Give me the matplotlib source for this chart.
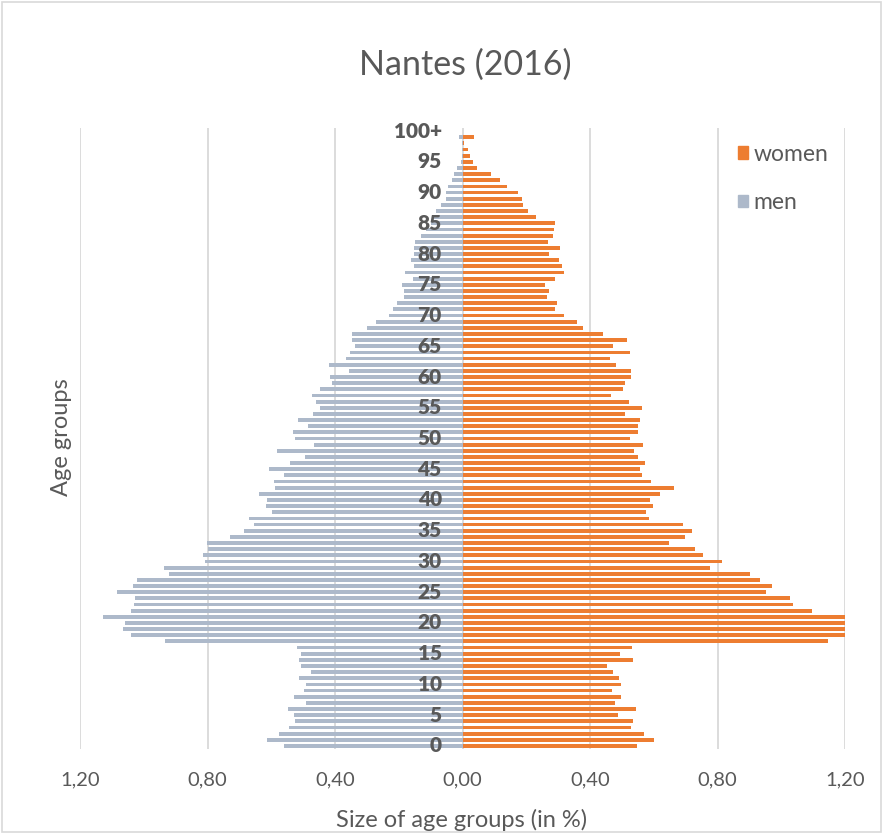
import matplotlib
matplotlib.use("Agg")
import matplotlib.pyplot as plt
from matplotlib.patches import Patch, Rectangle

plt.rcParams['font.family'] = ['Lato', 'DejaVu Sans']

# share of each age group in % (index = age, last = 100+)
ages = list(range(100)) + ["100+"]
men = [0.561, 0.613, 0.576, 0.543, 0.524, 0.528, 0.549, 0.491, 0.529, 0.498,
       0.492, 0.512, 0.476, 0.508, 0.513, 0.508, 0.518, 0.934, 1.041, 1.066,
       1.060, 1.129, 1.039, 1.030, 1.026, 1.084, 1.035, 1.022, 0.921, 0.936,
       0.809, 0.814, 0.797, 0.803, 0.728, 0.685, 0.654, 0.670, 0.597, 0.617,
       0.612, 0.637, 0.588, 0.591, 0.561, 0.608, 0.542, 0.495, 0.581, 0.466,
       0.526, 0.532, 0.484, 0.515, 0.468, 0.448, 0.461, 0.473, 0.447, 0.410,
       0.415, 0.356, 0.418, 0.366, 0.354, 0.336, 0.347, 0.347, 0.299, 0.270,
       0.232, 0.217, 0.205, 0.183, 0.183, 0.191, 0.154, 0.180, 0.152, 0.161,
       0.152, 0.151, 0.149, 0.131, 0.115, 0.100, 0.090, 0.084, 0.068, 0.052,
       0.052, 0.044, 0.032, 0.028, 0.016, 0.004, 0.002, 0.001, 0.001, 0.010,
       0.0]
women = [0.549, 0.602, 0.568, 0.530, 0.534, 0.489, 0.543, 0.477, 0.497, 0.468,
         0.497, 0.490, 0.472, 0.454, 0.534, 0.495, 0.533, 1.148, 1.300, 1.500,
         1.600, 1.450, 1.095, 1.038, 1.028, 0.951, 0.972, 0.934, 0.902, 0.777,
         0.815, 0.754, 0.728, 0.648, 0.699, 0.719, 0.693, 0.584, 0.576, 0.599,
         0.587, 0.619, 0.662, 0.592, 0.562, 0.556, 0.574, 0.550, 0.537, 0.565,
         0.527, 0.552, 0.550, 0.556, 0.511, 0.564, 0.521, 0.467, 0.503, 0.509,
         0.530, 0.530, 0.480, 0.462, 0.526, 0.473, 0.515, 0.441, 0.377, 0.358,
         0.318, 0.291, 0.298, 0.266, 0.271, 0.259, 0.290, 0.317, 0.312, 0.302,
         0.271, 0.305, 0.268, 0.283, 0.286, 0.291, 0.232, 0.204, 0.191, 0.187,
         0.175, 0.141, 0.118, 0.090, 0.045, 0.034, 0.023, 0.017, 0.005, 0.035,
         0.0]
xticks = [-1.2, -0.8, -0.4, 0.0, 0.4, 0.8, 1.2]
xticklabels = ["1,20", "0,80", "0,40", "0,00", "0,40", "0,80", "1,20"]

col_women = "#ED7D31"
col_men = "#ADB9CA"
txt = "#595959"

fig = plt.figure(figsize=(8.83, 8.34), dpi=100)
ax = fig.add_axes([80 / 883, 85 / 834, 765 / 883, 621 / 834])

pos = list(range(len(ages)))
ax.barh(pos, [-v for v in men], height=0.62, color=col_men, zorder=2)
ax.barh(pos, women, height=0.62, color=col_women, zorder=2)

ax.set_xlim(-1.2, 1.2)
ax.set_ylim(-0.5, len(ages) - 0.5)
ax.set_xticks(xticks)
ax.set_xticklabels(xticklabels, fontsize=14.5, color=txt)
ax.set_yticks([])
ax.tick_params(axis="x", length=0, pad=16)
ax.grid(axis="x", color="#d9d9d9", linewidth=1.3, zorder=0)
for s in ax.spines.values():
    s.set_visible(False)

# age labels drawn over the bars
for i, a in enumerate(ages):
    if i % 5 == 0:
        ax.text(-0.065, i, str(a), ha="right", va="center", fontsize=15,
                fontweight="heavy", color=txt, zorder=5)

fig.text(465 / 883, 1 - 65 / 834, "Nantes (2016)", ha="center", va="center",
         fontsize=24.5, color=txt)
fig.text(462 / 883, 1 - 820 / 834, "Size of age groups (in %)", ha="center",
         va="center", fontsize=17, color=txt)
fig.text(62 / 883, 1 - 437 / 834, "Age groups", ha="center", va="center",
         rotation=90, fontsize=17, color=txt)

handles = [Patch(color=col_women, label="women"), Patch(color=col_men, label="men")]
fig.legend(handles=handles, loc="upper left", bbox_to_anchor=(717 / 883, 1 - 123 / 834),
           frameon=False, fontsize=16.5, labelcolor=txt, handlelength=0.45,
           handleheight=0.45, handletextpad=0.25, labelspacing=1.2)

fig.patches.append(Rectangle((0.002, 0.002), 0.996, 0.996, transform=fig.transFigure,
                             fill=False, edgecolor="#d9d9d9", linewidth=1.2))

fig.savefig("out.png", dpi=100, facecolor="white")
